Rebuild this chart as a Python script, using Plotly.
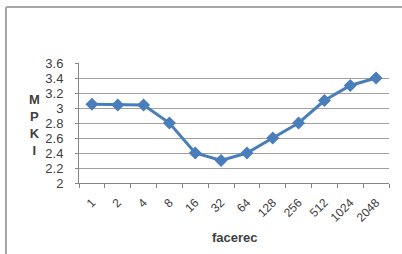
import plotly.graph_objects as go

categories = ["1", "2", "4", "8", "16", "32", "64", "128", "256", "512", "1024", "2048"]
mpki = [3.05, 3.04, 3.04, 2.8, 2.4, 2.3, 2.4, 2.6, 2.8, 3.1, 3.3, 3.4]
y_ticks = [2, 2.2, 2.4, 2.6, 2.8, 3, 3.2, 3.4, 3.6]
y_tick_labels = ["2", "2.2", "2.4", "2.6", "2.8", "3", "3.2", "3.4", "3.6"]

W, H = 402, 254
L, R, T, B = 79, 13, 63, 71
pw, ph = W - L - R, H - T - B

def px(x):
    return (x - L) / pw

def py(y):
    return (H - B - y) / ph

fig = go.Figure()
fig.add_trace(go.Scatter(
    x=categories, y=mpki, mode="lines+markers",
    line=dict(color="#4A7EBB", width=3),
    marker=dict(symbol="diamond", size=10, color="#4A7EBB"),
    showlegend=False,
))

font = dict(family="Liberation Sans, Arial, sans-serif", size=12, color="#404040")
fig.update_layout(
    width=W, height=H,
    margin=dict(l=L, r=R, t=T, b=B, autoexpand=False),
    paper_bgcolor="white", plot_bgcolor="white",
    font=font,
    xaxis=dict(
        type="category", tickangle=-45, tickson="boundaries",
        ticks="outside", ticklen=4, tickcolor="#868686",
        showline=True, linecolor="#868686", linewidth=1,
        showgrid=False, tickfont=dict(size=12, color="#404040"),
        range=[-0.5, len(categories) - 0.5], automargin=False,
        ticklabelstandoff=7,
    ),
    yaxis=dict(
        range=[2, 3.6], tickvals=y_ticks, ticktext=y_tick_labels,
        showgrid=True, gridcolor="#A0A0A0", gridwidth=1,
        showline=True, linecolor="#868686", linewidth=1,
        ticks="outside", ticklen=3, tickcolor="#868686",
        zeroline=False, tickfont=dict(size=13, color="#404040"),
        automargin=False, ticklabelstandoff=9,
    ),
    annotations=[
        dict(text="<b>M<br>P<br>K<br>I</b>", xref="paper", yref="paper",
             x=px(34), y=py(125), showarrow=False, xanchor="center", yanchor="middle",
             font=dict(size=13, color="#404040")),
        dict(text="<b>facerec</b>", xref="paper", yref="paper",
             x=px(235), y=py(237), showarrow=False, xanchor="center", yanchor="middle",
             font=dict(size=13, color="#404040")),
    ],
    shapes=[
        dict(type="line", xref="paper", yref="paper", x0=px(6), x1=px(6), y0=py(7), y1=py(254),
             line=dict(color="#A6A6A6", width=2)),
        dict(type="line", xref="paper", yref="paper", x0=px(6), x1=px(402), y0=py(7), y1=py(7),
             line=dict(color="#A6A6A6", width=2)),
    ],
)

fig.write_html("out.html", config={"displayModeBar": False},
               post_script="document.body.style.margin='0';document.body.style.overflow='hidden';")
